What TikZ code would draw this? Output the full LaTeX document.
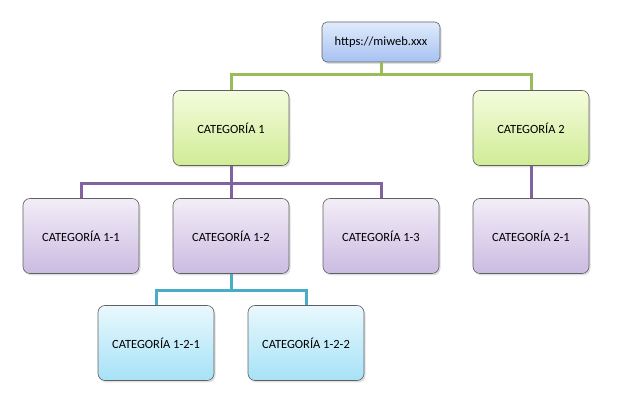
\documentclass[tikz,border=0pt]{standalone}
\usepackage{fontspec}
\setmainfont{Carlito}
\usetikzlibrary{shadows}

\definecolor{rootA}{HTML}{E0EBFC}
\definecolor{rootB}{HTML}{A7C2F0}
\definecolor{grnA}{HTML}{F4FCDD}
\definecolor{grnB}{HTML}{D0EC96}
\definecolor{purA}{HTML}{F3EDF8}
\definecolor{purB}{HTML}{CBBBE1}
\definecolor{cyaA}{HTML}{E9F8FD}
\definecolor{cyaB}{HTML}{A6E2F7}
\definecolor{grnline}{HTML}{9BBB59}
\definecolor{purline}{HTML}{8064A2}
\definecolor{cyaline}{HTML}{4BACC6}

\tikzset{
  box/.style={draw=gray!75!black, line width=0.6pt, rounded corners=7pt,
    minimum width=116pt, minimum height=75pt, align=center,
    font=\fontsize{12.5}{14}\selectfont,
    drop shadow={opacity=0.25, shadow xshift=1.5pt, shadow yshift=-2pt}},
  rootbox/.style={box, minimum width=118pt, minimum height=40pt, rounded corners=5pt,
    top color=rootA, bottom color=rootB},
  grnbox/.style={box, top color=grnA, bottom color=grnB},
  purbox/.style={box, top color=purA, bottom color=purB},
  cyabox/.style={box, top color=cyaA, bottom color=cyaB},
  link/.style={line width=3pt}
}

\begin{document}
\begin{tikzpicture}[x=1pt, y=-1pt]
  \useasboundingbox (0,0) rectangle (625,411);

  % junction points
  \coordinate (j1) at (381,75);
  \coordinate (j2) at (231,184);
  \coordinate (j3) at (231,291);

  % boxes
  \node[rootbox] (root) at (381,42) {https://miweb.xxx};
  \node[grnbox] (c1) at (231,128) {CATEGORÍA 1};
  \node[grnbox] (c2) at (531,128) {CATEGORÍA 2};
  \node[purbox] (c11) at (81,236) {CATEGORÍA 1-1};
  \node[purbox] (c12) at (231,236) {CATEGORÍA 1-2};
  \node[purbox] (c13) at (381,236) {CATEGORÍA 1-3};
  \node[purbox] (c21) at (531,236) {CATEGORÍA 2-1};
  \node[cyabox] (c121) at (156,343) {CATEGORÍA 1-2-1};
  \node[cyabox] (c122) at (306,343) {CATEGORÍA 1-2-2};

  % connectors
  \draw[link, grnline] (root.south) -- (j1);
  \draw[link, grnline] (c1.north) |- (j1) -| (c2.north);
  \draw[link, purline] (c1.south) -- (j2);
  \draw[link, purline] (c11.north) |- (j2) -| (c13.north);
  \draw[link, purline] (j2) -- (c12.north);
  \draw[link, purline] (c2.south) -- (c21.north);
  \draw[link, cyaline] (c12.south) -- (j3);
  \draw[link, cyaline] (c121.north) |- (j3) -| (c122.north);
\end{tikzpicture}
\end{document}
